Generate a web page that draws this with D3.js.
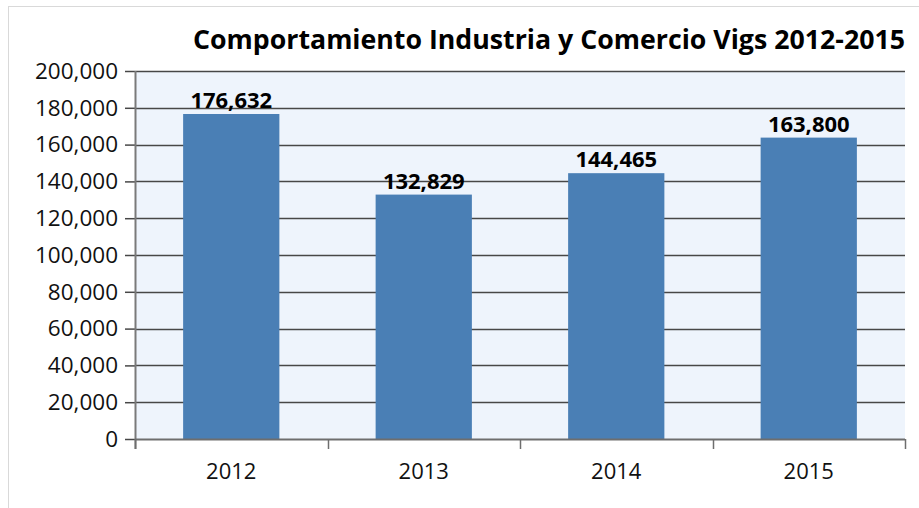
<!DOCTYPE html>
<html>
<head>
<meta charset="utf-8">
<script src="https://cdn.jsdelivr.net/npm/d3@7"></script>
<style>
  body { margin: 0; background: #fff; }
  svg { display: block; }
</style>
</head>
<body>
<div id="chart"></div>
<script>
// chart values
var years = ['2012', '2013', '2014', '2015'];
var values = [176632, 132829, 144465, 163800];
var yTicks = [0, 20000, 40000, 60000, 80000, 100000, 120000, 140000, 160000, 180000, 200000];
var title = 'Comportamiento Industria y Comercio Vigs 2012-2015';

var W = 919, H = 508;
var margin = {top: 71, right: 14, bottom: 69, left: 135};
var width = W - margin.left - margin.right,
    height = H - margin.top - margin.bottom;
var font = '"Open Sans", "Noto Sans", sans-serif';
var fmt = d3.format(',');

var svg = d3.select('#chart').append('svg')
  .attr('width', W).attr('height', H);

// outer frame
svg.append('rect')
  .attr('x', 8.5).attr('y', 6.5)
  .attr('width', W).attr('height', H)
  .attr('fill', 'none').attr('stroke', '#d9d9d9');

svg.append('text')
  .attr('x', 193).attr('y', 49)
  .attr('textLength', 712).attr('lengthAdjust', 'spacingAndGlyphs')
  .style('font-family', font).style('font-weight', 'bold').style('font-size', '26px')
  .attr('fill', '#000')
  .text(title);

var g = svg.append('g').attr('transform', 'translate(' + margin.left + ',' + margin.top + ')');

var x = d3.scaleBand().domain(years).range([0, width]).paddingInner(0.5).paddingOuter(0.25);
var xb = d3.scaleBand().domain(years).range([0, width]);
var y = d3.scaleLinear().domain([0, 200000]).range([height, 0]);

// plot background
g.append('rect')
  .attr('width', width).attr('height', height)
  .attr('fill', '#eef4fc');

// gridlines
g.selectAll('.grid').data(yTicks.slice(1)).enter().append('line')
  .attr('x1', 0).attr('x2', width)
  .attr('y1', function(d) { return Math.round(y(d)) + 0.5; })
  .attr('y2', function(d) { return Math.round(y(d)) + 0.5; })
  .attr('stroke', '#474747').attr('stroke-width', 1.5);

// bars
g.selectAll('.bar').data(values).enter().append('rect')
  .attr('x', function(d, i) { return x(years[i]); })
  .attr('width', x.bandwidth())
  .attr('y', function(d) { return y(d); })
  .attr('height', function(d) { return height - y(d); })
  .attr('fill', '#4a7fb5');

// value labels
g.selectAll('.lbl').data(values).enter().append('text')
  .attr('x', function(d, i) { return x(years[i]) + x.bandwidth() / 2; })
  .attr('y', function(d) { return y(d) - 6; })
  .attr('text-anchor', 'middle')
  .style('font-family', font).style('font-weight', 'bold').style('font-size', '22px')
  .attr('fill', '#000')
  .text(function(d) { return fmt(d); });

// y axis
var yAxis = d3.axisLeft(y).tickValues(yTicks).tickSize(10).tickPadding(7)
  .tickFormat(function(d) { return fmt(d); });
var ya = g.append('g').call(yAxis);
ya.select('.domain').remove();
ya.selectAll('line').attr('stroke', '#474747').attr('stroke-width', 1.5);
ya.selectAll('text').style('font-family', font).style('font-size', '22.5px').attr('fill', '#111');
g.append('line')
  .attr('x1', 0.5).attr('x2', 0.5).attr('y1', 0).attr('y2', height + 10)
  .attr('stroke', '#7a7a7a').attr('stroke-width', 2);

// x axis with ticks at category boundaries
var xa = g.append('g').attr('transform', 'translate(0,' + height + ')');
xa.append('line')
  .attr('x1', 0).attr('x2', width).attr('y1', 0.5).attr('y2', 0.5)
  .attr('stroke', '#6e6e6e').attr('stroke-width', 2);
var bounds = years.map(function(d) { return xb(d); }).concat([width]);
xa.selectAll('.xt').data(bounds).enter().append('line')
  .attr('x1', function(d) { return Math.round(d) + 0.5; })
  .attr('x2', function(d) { return Math.round(d) + 0.5; })
  .attr('y1', 0).attr('y2', 10)
  .attr('stroke', '#6e6e6e').attr('stroke-width', 1.5);
xa.selectAll('.xl').data(years).enter().append('text')
  .attr('x', function(d) { return xb(d) + xb.bandwidth() / 2; })
  .attr('y', 40)
  .attr('text-anchor', 'middle')
  .style('font-family', font).style('font-size', '22px')
  .attr('fill', '#111')
  .text(function(d) { return d; });
</script>
</body>
</html>
